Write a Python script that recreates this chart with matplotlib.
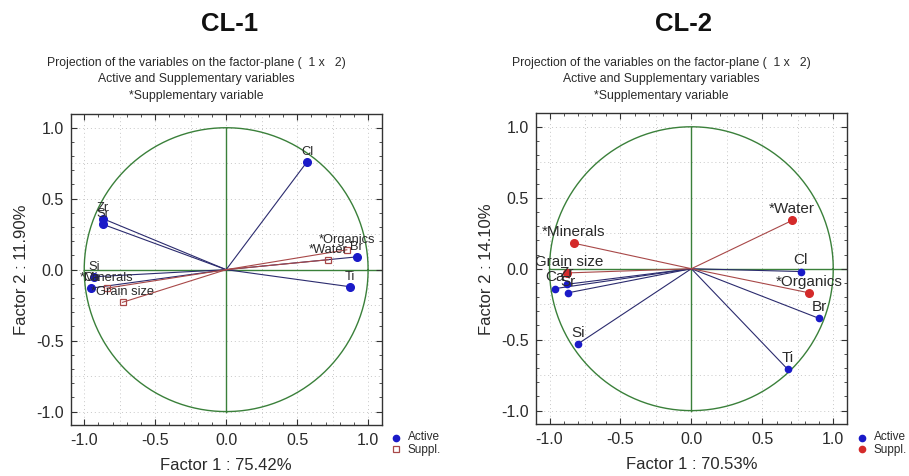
import matplotlib
matplotlib.use("Agg")
import matplotlib.pyplot as plt
import numpy as np
from matplotlib.lines import Line2D
from matplotlib.ticker import MultipleLocator

plt.rcParams['font.family'] = ['Liberation Sans', 'DejaVu Sans']

# ---------------- data ----------------
titles = ["CL-1", "CL-2"]
subtitle_lines = ["Projection of the variables on the factor-plane (  1 x   2)",
                  "Active and Supplementary variables",
                  "*Supplementary variable"]
xlabels = ["Factor 1 : 75.42%", "Factor 1 : 70.53%"]
ylabels = ["Factor 2 : 11.90%", "Factor 2 : 14.10%"]
tick_values = [-1.0, -0.5, 0.0, 0.5, 1.0]
tick_labels = ["-1.0", "-0.5", "0.0", "0.5", "1.0"]

cl1_active_names = ["Cl", "Zr", "Sr", "Br", "Ti", "Si", "Ca"]
cl1_active_x = [0.57, -0.87, -0.87, 0.92, 0.87, -0.93, -0.95]
cl1_active_y = [0.76, 0.36, 0.32, 0.09, -0.12, -0.05, -0.13]
cl1_suppl_names = ["*Organics", "*Water", "*Grain size", "*Minerals"]
cl1_suppl_x = [0.85, 0.72, -0.73, -0.84]
cl1_suppl_y = [0.14, 0.07, -0.23, -0.13]

cl2_active_names = ["Cl", "Br", "Ti", "Si", "Ca", "Zr", "Sr"]
cl2_active_x = [0.77, 0.90, 0.68, -0.80, -0.96, -0.88, -0.87]
cl2_active_y = [-0.02, -0.35, -0.71, -0.53, -0.14, -0.11, -0.17]
cl2_suppl_names = ["*Water", "*Minerals", "*Organics", "*Grain size"]
cl2_suppl_x = [0.71, -0.83, 0.83, -0.88]
cl2_suppl_y = [0.34, 0.18, -0.17, -0.03]

legend_labels = ["Active", "Suppl."]

# ---------------- styles ----------------
GREEN = "#3a803a"
ACT_LINE = "#2b2b6e"
SUP_LINE = "#a84848"
BLUE = "#1a1ac8"
RED = "#d42a2a"
TXT = "#2a2a2a"

fig = plt.figure(figsize=(9.09, 4.76), dpi=100)

axes_pos = [[0.0778, 0.107, 0.342, 0.653], [0.5897, 0.109, 0.3418, 0.653]]
lim = 1.095


def setup(ax, xl, yl):
    ax.set_xlim(-lim, lim)
    ax.set_ylim(-lim, lim)
    ax.set_xticks(tick_values)
    ax.set_xticklabels(tick_labels)
    ax.set_yticks(tick_values)
    ax.set_yticklabels(tick_labels)
    ax.xaxis.set_minor_locator(MultipleLocator(0.1))
    ax.yaxis.set_minor_locator(MultipleLocator(0.1))
    ax.tick_params(which='both', direction='in', top=True, right=True,
                   colors='#333333', labelcolor=TXT, labelsize=11.5)
    ax.tick_params(which='major', length=4, width=0.8)
    ax.tick_params(which='minor', length=2.5, width=0.6)
    ax.tick_params(axis='x', pad=6)
    ax.tick_params(axis='y', pad=5)
    for s in ax.spines.values():
        s.set_color('#333333')
        s.set_linewidth(1.0)
    g = np.arange(-1.0, 1.01, 0.25)
    for v in g:
        ax.axvline(v, color='#c8c8c8', lw=0.7, ls=(0, (1, 3)), zorder=0)
        ax.axhline(v, color='#c8c8c8', lw=0.7, ls=(0, (1, 3)), zorder=0)
    t = np.linspace(0, 2 * np.pi, 400)
    ax.plot(np.cos(t), np.sin(t), color=GREEN, lw=1.0, zorder=1)
    ax.plot([-1, lim], [0, 0], color=GREEN, lw=1.0, zorder=1)
    ax.plot([0, 0], [-1, 1], color=GREEN, lw=1.0, zorder=1)
    ax.set_xlabel(xl, fontsize=12, color=TXT)
    ax.set_ylabel(yl, fontsize=12, color=TXT)
    ax.xaxis.set_label_coords(0.5, -0.129)
    ax.xaxis.label.set_va('center')
    ax.yaxis.set_label_coords(-0.158, 0.5)
    ax.yaxis.label.set_va('center')


def draw(ax, an, ax_, ay_, sn, sx, sy, fs, act_ms, sup_style, sup_ms):
    for x, y in zip(ax_, ay_):
        ax.plot([0, x], [0, y], color=ACT_LINE, lw=0.8, zorder=2)
    for x, y in zip(sx, sy):
        ax.plot([0, x], [0, y], color=SUP_LINE, lw=0.8, zorder=2)
    ax.plot(ax_, ay_, 'o', color=BLUE, ms=act_ms, zorder=3, ls='none')
    if sup_style == 'square':
        ax.plot(sx, sy, 's', mfc='none', mec=SUP_LINE, mew=0.9, ms=sup_ms,
                zorder=3, ls='none')
    else:
        ax.plot(sx, sy, 'o', color=RED, ms=sup_ms, zorder=3, ls='none')
    for n, x, y in zip(list(an) + list(sn), list(ax_) + list(sx), list(ay_) + list(sy)):
        ax.annotate(n, (x, y), xytext=(0, 3), textcoords='offset points',
                    ha='center', va='bottom', fontsize=fs, color=TXT,
                    zorder=4, annotation_clip=False, clip_on=True)


ax1 = fig.add_axes(axes_pos[0])
setup(ax1, xlabels[0], ylabels[0])
draw(ax1, cl1_active_names, cl1_active_x, cl1_active_y,
     cl1_suppl_names, cl1_suppl_x, cl1_suppl_y, 9.3, 5.5, 'square', 4.5)

ax2 = fig.add_axes(axes_pos[1])
setup(ax2, xlabels[1], ylabels[1])
draw(ax2, cl2_active_names, cl2_active_x, cl2_active_y,
     cl2_suppl_names, cl2_suppl_x, cl2_suppl_y, 11, 4.5, 'dot', 5.5)

H = 476.0
W = 909.0
# titles
for title, cx in zip(titles, [230.0, 683.3]):
    fig.text(cx / W, 1 - 24 / H, title, ha='center', va='center',
             fontsize=18.5, fontweight='bold', color='#111111')
# subtitles
for cx in [196.0, 661.3]:
    for line, yy in zip(subtitle_lines, [63.0, 79.0, 96.0]):
        fig.text(cx / W, 1 - yy / H, line, ha='center', va='center',
                 fontsize=8.8, color=TXT)

# legends
for i, mx in enumerate([395.7, 861.7]):
    fig.add_artist(Line2D([mx / W], [1 - 437.5 / H], marker='o', color=BLUE,
                          ms=4.5, ls='none', transform=fig.transFigure))
    if i == 0:
        fig.add_artist(Line2D([mx / W], [1 - 448.5 / H], marker='s', mfc='none',
                              mec=SUP_LINE, mew=0.9, ms=4, ls='none',
                              transform=fig.transFigure))
    else:
        fig.add_artist(Line2D([mx / W], [1 - 449 / H], marker='o', color=RED,
                              ms=4.5, ls='none', transform=fig.transFigure))
    fig.text((mx + 12) / W, 1 - 437.5 / H, legend_labels[0], ha='left',
             va='center', fontsize=8.5, color=TXT)
    fig.text((mx + 12) / W, 1 - 450.5 / H, legend_labels[1], ha='left',
             va='center', fontsize=8.5, color=TXT)

fig.savefig("out.png", dpi=100)
